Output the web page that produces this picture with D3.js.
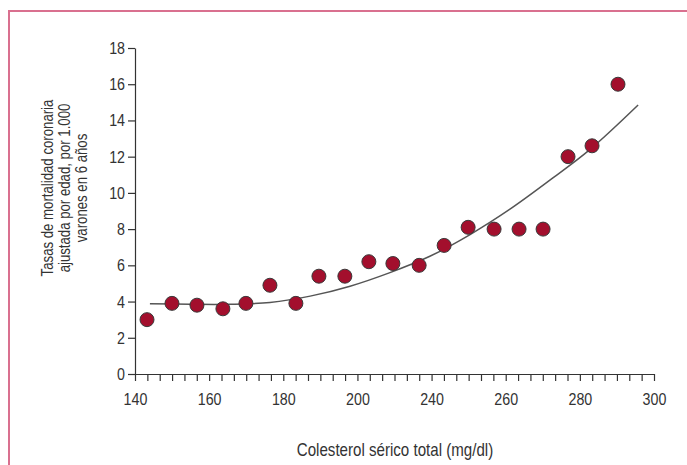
<!DOCTYPE html>
<html>
<head>
<meta charset="utf-8">
<script src="https://cdn.jsdelivr.net/npm/d3@7"></script>
<style>
  html, body { margin: 0; padding: 0; background: #fff; }
  svg text { font-family: "Liberation Sans", Arial, sans-serif; fill: #333; }
</style>
</head>
<body>
<svg id="svg"></svg>
<script>
const width = 687;
const height = 465;

// serum cholesterol groups (mg/dl) and 6-year age-adjusted CHD death rate per 1,000 men
const cholesterol = [143.7, 151.4, 159.1, 167.1, 174.2, 181.6, 189.6, 196.7, 204.7, 212.1,
                     219.5, 227.6, 235.3, 242.7, 250.7, 258.4, 265.8, 273.5, 280.9, 288.9];
const rates = [3.0, 3.9, 3.8, 3.6, 3.9, 4.9, 3.9, 5.4, 5.4, 6.2,
               6.1, 6.0, 7.1, 8.1, 8.0, 8.0, 8.0, 12.0, 12.6, 16.0];

// fitted curve
const fitX = [144.6, 157.0, 169.3, 181.6, 194.0, 206.3, 218.6, 230.9, 243.3, 255.6, 267.9, 280.3, 295.1];
const fitY = [3.88, 3.85, 3.85, 3.95, 4.3, 4.85, 5.6, 6.5, 7.7, 9.1, 10.7, 12.4, 14.85];

const xTickLabels = ["140", "160", "180", "200", "240", "260", "280", "300"];
const yTicks = [0, 2, 4, 6, 8, 10, 12, 14, 16, 18];

const margin = { top: 48, right: 33, bottom: 91, left: 135 };

// the original uses a condensed face; squeeze Liberation Sans horizontally
const squeeze = 0.84;
function condense(sel) {
    sel.each(function () {
        const t = d3.select(this);
        const x = +t.attr("x") || 0;
        const tr = t.attr("transform") || "";
        t.attr("x", x / squeeze).attr("transform", `${tr} scale(${squeeze},1)`);
    });
}

let svg = d3.select("#svg")
    .attr("width", width)
    .attr("height", height)
    .attr("viewBox", [0, 0, width, height]);

// pink frame (top and left only)
svg.append("path")
    .attr("d", `M9,${height} L9,11 L${width},11`)
    .attr("fill", "none")
    .attr("stroke", "#d9708f")
    .attr("stroke-width", 2);

let xScale = d3.scaleLinear()
    .domain([140, 300])
    .range([margin.left, width - margin.right]);

let yScale = d3.scaleLinear()
    .domain([0, 18])
    .range([height - margin.bottom, margin.top]);

// 6 minor ticks between each labelled tick
const minorPerMajor = 6;
const nMinor = (xTickLabels.length - 1) * minorPerMajor;
const xTickVals = d3.range(nMinor + 1).map(i => 140 + i * 160 / nMinor);

let xAxis = svg.append("g")
    .attr("transform", `translate(0, ${height - margin.bottom})`)
    .call(d3.axisBottom(xScale)
        .tickValues(xTickVals)
        .tickSizeInner(7)
        .tickSizeOuter(0)
        .tickPadding(12)
        .tickFormat((d, i) => i % minorPerMajor === 0 ? xTickLabels[i / minorPerMajor] : ""));

let yAxis = svg.append("g")
    .attr("transform", `translate(${margin.left}, 0)`)
    .call(d3.axisLeft(yScale)
        .tickValues(yTicks)
        .tickSizeInner(7)
        .tickSizeOuter(0)
        .tickPadding(3));

[xAxis, yAxis].forEach(g => {
    g.selectAll("path, line").attr("stroke", "#333").attr("stroke-width", 1.2);
    g.selectAll("text").attr("font-size", "17px").style("fill", "#333")
        .style("font-family", '"Liberation Sans", Arial, sans-serif')
        .call(condense);
});

// fitted curve
const fit = fitX.map((x, i) => [x, fitY[i]]);
svg.append("path")
    .datum(fit)
    .attr("fill", "none")
    .attr("stroke", "#555")
    .attr("stroke-width", 1.5)
    .attr("d", d3.line()
        .x(d => xScale(d[0]))
        .y(d => yScale(d[1]))
        .curve(d3.curveCatmullRom));

// points
svg.append("g")
    .selectAll("circle")
    .data(cholesterol)
    .enter()
    .append("circle")
        .attr("cx", d => xScale(d))
        .attr("cy", (d, i) => yScale(rates[i]))
        .attr("r", 7)
        .attr("fill", "#a30f2d")
        .attr("stroke", "#3a3a3a")
        .attr("stroke-width", 1);

// x axis title
svg.append("text")
    .text("Colesterol sérico total (mg/dl)")
    .attr("x", 395)
    .attr("y", 456)
    .attr("text-anchor", "middle")
    .attr("font-size", "18px")
    .call(condense);

// y axis title, three lines
const yTitle = ["Tasas de mortalidad coronaria", "ajustada por edad, por 1.000", "varones en 6 años"];
svg.append("text")
    .attr("transform", "translate(53, 188) rotate(-90) scale(0.8,1)")
    .attr("text-anchor", "middle")
    .attr("font-size", "16.5px")
    .selectAll("tspan")
    .data(yTitle)
    .enter()
    .append("tspan")
        .attr("x", 0)
        .attr("dy", (d, i) => i === 0 ? 0 : 17)
        .text(d => d);

svg.node();
</script>
</body>
</html>
